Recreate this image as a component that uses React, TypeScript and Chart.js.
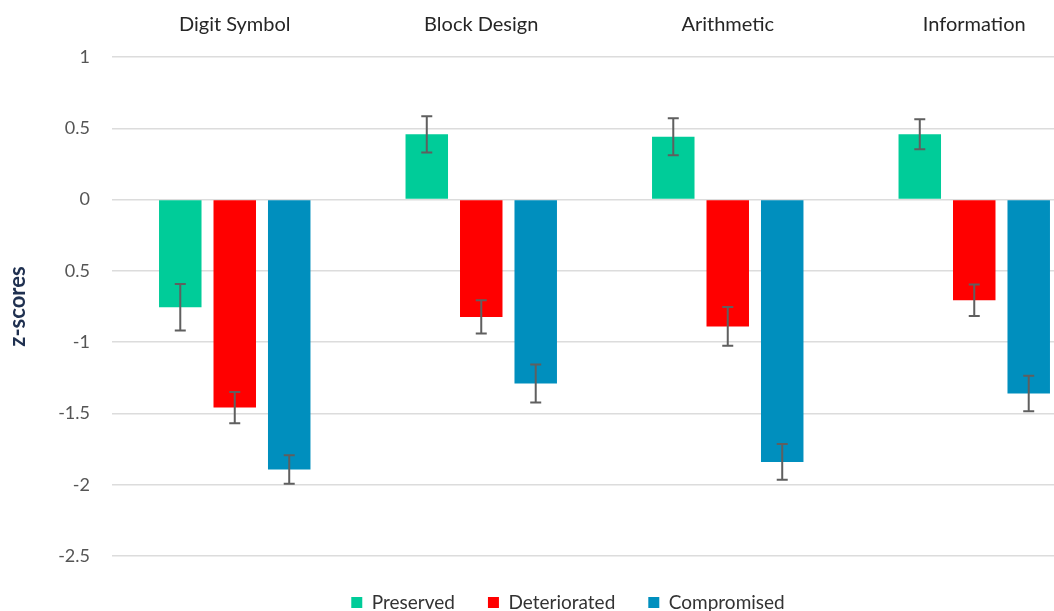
import React, { useEffect, useRef } from "react";
import { Chart, registerables } from "chart.js";

Chart.register(...registerables);

const categories = ["Digit Symbol", "Block Design", "Arithmetic", "Information"];
const seriesNames = ["Preserved", "Deteriorated", "Compromised"];
const preserved = [-0.755, 0.458, 0.441, 0.458];
const deteriorated = [-1.459, -0.823, -0.89, -0.706];
const compromised = [-1.893, -1.29, -1.84, -1.36];
const preservedErr = [0.163, 0.127, 0.13, 0.105];
const deterioratedErr = [0.11, 0.117, 0.136, 0.11];
const compromisedErr = [0.1, 0.133, 0.126, 0.125];
const yTickValues = [1, 0.5, 0, -0.5, -1, -1.5, -2, -2.5];
const yTickLabels = ["1", "0.5", "0", "0.5", "-1", "-1.5", "-2", "-2.5"];
const yTitle = "z-scores";

const colors = ["#00CC99", "#FF0000", "#008FBE"];
const FONT = "Lato, 'Open Sans', sans-serif";

const errorBarPlugin = {
  id: "errorBars",
  afterDatasetsDraw(chart: any) {
    const ctx = chart.ctx;
    const yScale = chart.scales.y;
    ctx.save();
    ctx.strokeStyle = "#5f5f5f";
    ctx.lineWidth = 2;
    chart.data.datasets.forEach((ds: any, i: number) => {
      const meta = chart.getDatasetMeta(i);
      if (meta.hidden) return;
      meta.data.forEach((bar: any, j: number) => {
        const v = ds.data[j];
        const e = ds.errors[j];
        const x = bar.x;
        const yTop = yScale.getPixelForValue(v + e);
        const yBot = yScale.getPixelForValue(v - e);
        const cap = 5.5;
        ctx.beginPath();
        ctx.moveTo(x, yTop);
        ctx.lineTo(x, yBot);
        ctx.moveTo(x - cap, yTop);
        ctx.lineTo(x + cap, yTop);
        ctx.moveTo(x - cap, yBot);
        ctx.lineTo(x + cap, yBot);
        ctx.stroke();
      });
    });
    ctx.restore();
  },
};

export default function App() {
  const ref = useRef<HTMLCanvasElement | null>(null);

  useEffect(() => {
    if (!ref.current) return;
    const values = [preserved, deteriorated, compromised];
    const errs = [preservedErr, deterioratedErr, compromisedErr];
    const chart = new Chart(ref.current, {
      type: "bar",
      data: {
        labels: categories,
        datasets: seriesNames.map((name, i) => ({
          label: name,
          data: values[i],
          errors: errs[i],
          backgroundColor: colors[i],
          borderWidth: 0,
          categoryPercentage: 0.663,
          barPercentage: 0.78,
        })) as any,
      },
      options: {
        animation: false,
        responsive: true,
        maintainAspectRatio: false,
        layout: { padding: 0 },
        scales: {
          x: {
            position: "top",
            grid: { display: false, drawTicks: false },
            border: { display: false },
            ticks: {
              padding: 20,
              color: "#262626",
              font: { family: FONT, size: 20 },
              maxRotation: 0,
            },
            afterFit: (s: any) => {
              s.height = 57;
            },
          },
          xB: {
            type: "category",
            position: "bottom",
            grid: { display: false, drawTicks: false },
            border: { display: false },
            ticks: { display: false },
            afterFit: (s: any) => {
              s.height = 4;
            },
          },
          y: {
            min: -2.5,
            max: 1,
            afterBuildTicks: (s: any) => {
              s.ticks = yTickValues.map((v) => ({ value: v }));
            },
            grid: { color: "#dcdcdc", lineWidth: 1.5, drawTicks: false },
            border: { display: false },
            ticks: {
              padding: 21.5,
              color: "#555555",
              font: { family: FONT, size: 18 },
              callback: (val: any) => {
                const k = yTickValues.findIndex((t) => Math.abs(t - Number(val)) < 1e-9);
                return k >= 0 ? yTickLabels[k] : "";
              },
            },
            title: {
              display: true,
              text: yTitle,
              color: "#1F3050",
              font: { family: FONT, size: 22, weight: "bold" },
              padding: { top: 5, bottom: 0 },
            },
            afterFit: (s: any) => {
              s.width = 111.5;
            },
          },
          yR: {
            type: "linear",
            position: "right",
            grid: { display: false, drawTicks: false },
            border: { display: false },
            ticks: { display: false },
            afterFit: (s: any) => {
              s.width = 38.5;
            },
          },
        },
        plugins: {
          legend: {
            position: "bottom",
            labels: {
              boxWidth: 11,
              boxHeight: 11,
              padding: 33,
              color: "#333333",
              font: { family: FONT, size: 19 },
            },
          },
          tooltip: { enabled: false },
        },
      } as any,
      plugins: [errorBarPlugin],
    });
    return () => chart.destroy();
  }, []);

  return (
    <div
      style={{
        position: "absolute",
        left: 0,
        top: 0,
        width: 1054,
        height: 611,
        overflow: "hidden",
        background: "#ffffff",
      }}
    >
      <div style={{ position: "relative", width: 1136, height: 622 }}>
        <canvas ref={ref} />
      </div>
    </div>
  );
}
